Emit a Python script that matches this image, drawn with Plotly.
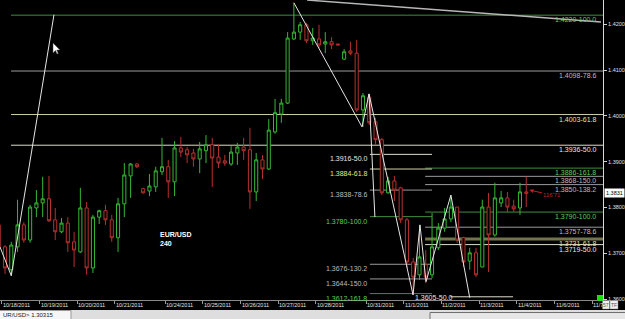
import plotly.graph_objects as go

# ---------------- data (4h EUR/USD bars) ----------------
bar_idx = list(range(-1, 84))
opens = [1.3762, 1.3714, 1.3664, 1.3714, 1.3762, 1.3729, 1.3799, 1.3810, 1.3819, 1.3773,
         1.3747, 1.3766, 1.3725, 1.3703, 1.3799, 1.3668, 1.3779, 1.3793, 1.3773, 1.3734,
         1.3808, 1.3869, 1.3895, 1.3841, 1.3836, 1.3845, 1.3878, 1.3889, 1.3856, 1.3930,
         1.3926, 1.3919, 1.3906, 1.3924, 1.3937, 1.3910, 1.3902, 1.3895, 1.3919, 1.3932,
         1.3926, 1.3834, 1.3904, 1.3884, 1.3965, 1.4004, 1.4028, 1.4168, 1.4183, 1.4199,
         1.4164, 1.4168, 1.4157, 1.4162, 1.4157, 1.4124, 1.4142, 1.4137, 1.4013, 1.4041,
         1.3987, 1.3948, 1.3832, 1.3858, 1.3843, 1.3773, 1.3681, 1.3653, 1.3675, 1.3653,
         1.3712, 1.3755, 1.3775, 1.3801, 1.3734, 1.3683, 1.3701, 1.3670, 1.3801, 1.3740,
         1.3810, 1.3821, 1.3803, 1.3799, 1.3834]
highs = [1.3779, 1.3718, 1.3725, 1.3817, 1.3768, 1.3806, 1.3838, 1.3867, 1.3869, 1.3799,
         1.3777, 1.3779, 1.3747, 1.3843, 1.3812, 1.3784, 1.3795, 1.3806, 1.3784, 1.3821,
         1.3897, 1.3897, 1.3897, 1.3843, 1.3873, 1.3889, 1.3952, 1.3904, 1.3945, 1.3954,
         1.3932, 1.3928, 1.3943, 1.3958, 1.3952, 1.3937, 1.3915, 1.3934, 1.3941, 1.3952,
         1.3974, 1.3919, 1.3915, 1.3993, 1.4037, 1.4037, 1.4183, 1.4247, 1.4205, 1.4203,
         1.4192, 1.4199, 1.4183, 1.4172, 1.4157, 1.4146, 1.4162, 1.4166, 1.4050, 1.4048,
         1.3996, 1.3952, 1.3867, 1.3869, 1.3845, 1.3777, 1.3690, 1.3762, 1.3707, 1.3788,
         1.3766, 1.3799, 1.3827, 1.3801, 1.3736, 1.3712, 1.3712, 1.3817, 1.3832, 1.3854,
         1.3836, 1.3834, 1.3817, 1.3854, 1.3867]
lows = [1.3707, 1.3655, 1.3651, 1.3703, 1.3723, 1.3723, 1.3779, 1.3779, 1.3768, 1.3729,
        1.3744, 1.3703, 1.3670, 1.3701, 1.3653, 1.3657, 1.3764, 1.3762, 1.3725, 1.3703,
        1.3779, 1.3821, 1.3886, 1.3830, 1.3825, 1.3834, 1.3871, 1.3821, 1.3825, 1.3910,
        1.3897, 1.3889, 1.3875, 1.3897, 1.3845, 1.3886, 1.3891, 1.3891, 1.3893, 1.3904,
        1.3797, 1.3814, 1.3862, 1.3882, 1.3961, 1.3985, 1.4026, 1.4166, 1.4166, 1.4159,
        1.4155, 1.4148, 1.4137, 1.4146, 1.4155, 1.4122, 1.4133, 1.4009, 1.3976, 1.3980,
        1.3937, 1.3827, 1.3830, 1.3814, 1.3766, 1.3668, 1.3609, 1.3642, 1.3635, 1.3646,
        1.3707, 1.3747, 1.3768, 1.3723, 1.3670, 1.3664, 1.3648, 1.3670, 1.3659, 1.3736,
        1.3801, 1.3790, 1.3790, 1.3784, 1.3801]
closes = [1.3714, 1.3668, 1.3718, 1.3762, 1.3729, 1.3801, 1.3810, 1.3819, 1.3771, 1.3747,
          1.3766, 1.3723, 1.3707, 1.3799, 1.3668, 1.3779, 1.3793, 1.3773, 1.3734, 1.3808,
          1.3871, 1.3895, 1.3889, 1.3832, 1.3847, 1.3880, 1.3889, 1.3856, 1.3930, 1.3921,
          1.3915, 1.3906, 1.3928, 1.3937, 1.3908, 1.3897, 1.3897, 1.3921, 1.3932, 1.3924,
          1.3834, 1.3904, 1.3884, 1.3969, 1.4007, 1.4028, 1.4170, 1.4183, 1.4199, 1.4164,
          1.4170, 1.4155, 1.4162, 1.4155, 1.4155, 1.4140, 1.4137, 1.4013, 1.4044, 1.3985,
          1.3948, 1.3832, 1.3858, 1.3838, 1.3773, 1.3681, 1.3648, 1.3692, 1.3648, 1.3714,
          1.3755, 1.3775, 1.3801, 1.3729, 1.3681, 1.3701, 1.3653, 1.3801, 1.3740, 1.3821,
          1.3821, 1.3801, 1.3797, 1.3834, 1.3831]

day_start = [0, 6, 12, 18, 26, 32, 38, 44, 50, 58, 64, 70, 76, 82, 88, 94]
day_labels = ["10/18/2011", "10/19/2011", "10/20/2011", "10/21/2011", "10/24/2011",
              "10/25/2011", "10/26/2011", "10/27/2011", "10/28/2011", "10/31/2011",
              "11/1/2011", "11/2/2011", "11/3/2011", "11/4/2011", "11/6/2011", "11/7"]

price_ticks = [1.36, 1.37, 1.38, 1.39, 1.40, 1.41, 1.42]
price_tick_text = ["1.3600", "1.3700", "1.3800", "1.3900", "1.4000", "1.4100", "1.4200"]
last_price = 1.3831

fib_top_levels = [1.4220, 1.4098, 1.4003, 1.3936]
fib_top_ratios = ["100.0", "78.6", "61.8", "50.0"]
fib_right_levels = [1.3886, 1.3868, 1.3850, 1.3790, 1.3757, 1.3731, 1.3719]
fib_right_ratios = ["161.8", "150.0", "138.2", "100.0", "78.6", "61.8", "50.0"]
fib_mid_levels = [1.3916, 1.3884, 1.3838, 1.3780, 1.3676, 1.3644, 1.3612]
fib_mid_ratios = ["50.0", "61.8", "78.6", "100.0", "130.2", "150.0", "161.8"]
fib_low_level = 1.3605
fib_low_ratio = "50.0"

trend_a_x = [-0.8, 1.0, 7.8]
trend_a_y = [1.3714, 1.3651, 1.4221]
trend_b_x = [46.0, 56.85, 57.96, 64.97, 66.08, 67.04, 71.0, 74.0]
trend_b_y = [1.4247, 1.3976, 1.4048, 1.3609, 1.3762, 1.3638, 1.3827, 1.3603]
trend_c_x = [57.96, 58.9]
trend_c_y = [1.4048, 1.3779]
trend_d_x = [48.1, 94.9]
trend_d_y = [1.4253, 1.4205]

# ---------------- styling helpers ----------------
GREEN_LINE, GREEN_TXT = "#3e8e3e", "#5fcf5f"
GRAY_LINE, GRAY_TXT = "#9a9a9a", "#bdbdbd"
YEL_LINE, YEL_TXT = "#cfcfa6", "#e6e68a"
WHITE_LINE, WHITE_TXT = "#dcdccc", "#e8e8e8"


def fib_colors(ratio):
    if ratio in ("100.0", "161.8"):
        return GREEN_LINE, GREEN_TXT
    if ratio == "61.8":
        return YEL_LINE, YEL_TXT
    if ratio == "50.0":
        return WHITE_LINE, WHITE_TXT
    return GRAY_LINE, GRAY_TXT


X_MIN, X_MAX = -0.796, 95.22
Y_MIN, Y_MAX = 1.35980, 1.42531

fig = go.Figure()
fig.add_trace(go.Candlestick(
    x=bar_idx, open=opens, high=highs, low=lows, close=closes,
    increasing=dict(line=dict(color="#35b835", width=1), fillcolor="black"),
    decreasing=dict(line=dict(color="#b83030", width=1), fillcolor="black"),
    whiskerwidth=0, hoverinfo="skip", showlegend=False,
))

for tx, ty in [(trend_a_x, trend_a_y), (trend_b_x, trend_b_y), (trend_c_x, trend_c_y)]:
    fig.add_trace(go.Scatter(x=tx, y=ty, mode="lines", line=dict(color="#e6e6e6", width=1),
                             hoverinfo="skip", showlegend=False))
fig.add_trace(go.Scatter(x=trend_d_x, y=trend_d_y, mode="lines",
                         line=dict(color="#b8b8b8", width=1.5),
                         hoverinfo="skip", showlegend=False))

shapes = []
annotations = []
LBL_FONT = "Liberation Sans"


def add_fib(level, ratio, x0, x1, lx, anchor="right", width=1, line_color=None):
    lc, tc = fib_colors(ratio)
    if line_color:
        lc = line_color
    shapes.append(dict(type="line", xref="x", yref="y", x0=x0, x1=x1, y0=level, y1=level,
                       line=dict(color=lc, width=width), layer="below"))
    annotations.append(dict(xref="x", yref="y", x=lx, y=level, xanchor=anchor, yanchor="top",
                            text=f"{level:.4f}-{ratio}", showarrow=False, yshift=1,
                            font=dict(family=LBL_FONT, size=7, color=tc)))


for lv, r in zip(fib_top_levels, fib_top_ratios):
    add_fib(lv, r, 0.96, X_MAX, 94.4)
for lv, r in zip(fib_right_levels, fib_right_ratios):
    if r == "61.8":
        add_fib(lv, r, 66.9, X_MAX, 94.4, width=3, line_color="#74744c")
    else:
        add_fib(lv, r, 66.9, X_MAX, 94.4)
for lv, r in zip(fib_mid_levels, fib_mid_ratios):
    add_fib(lv, r, 58.1, 68.0, 58.0)
# lowest short fib line
lc, tc = fib_colors(fib_low_ratio)
shapes.append(dict(type="line", xref="x", yref="y", x0=70.9, x1=80.9, y0=fib_low_level,
                   y1=fib_low_level, line=dict(color=lc, width=1), layer="below"))
annotations.append(dict(xref="x", yref="y", x=65.0, y=fib_low_level, xanchor="left",
                        yanchor="middle", yshift=-1, text=f"{fib_low_level:.4f}-{fib_low_ratio}",
                        showarrow=False, font=dict(family=LBL_FONT, size=7, color=tc)))

# chart caption
annotations.append(dict(xref="x", yref="y", x=24.4, y=1.3753, xanchor="left", yanchor="top",
                        align="left", text="<b>EUR/USD<br>240</b>", showarrow=False,
                        font=dict(family=LBL_FONT, size=7, color="white")))

# last price marker and note
annotations.append(dict(xref="paper", yref="y", x=1.002, y=last_price, xanchor="left",
                        yanchor="middle", text=f"{last_price:.4f}", showarrow=False,
                        bgcolor="white", borderpad=1,
                        font=dict(family=LBL_FONT, size=5.5, color="black")))
annotations.append(dict(xref="x", yref="y", x=83.5, y=1.3838, ax=23, ay=5, text="116'71",
                        showarrow=True, arrowhead=2, arrowsize=0.8, arrowwidth=1,
                        arrowcolor="#c02020",
                        font=dict(family=LBL_FONT, size=6, color="#c02020")))

# bottom status bar & small widgets (pixel -> paper helpers)
PW, PH = 603.0, 300.0


def px(X):
    return X / PW


def py(Y):
    return (PH - Y) / PH


# date labels, left-aligned at each day's tick
for d, lab in zip(day_start, day_labels):
    annotations.append(dict(xref="x", yref="paper", x=d - 0.5, y=py(305), xanchor="left",
                            yanchor="middle", text=lab, showarrow=False, xshift=-1,
                            font=dict(family=LBL_FONT, size=5.5, color="#e0e0e0")))

shapes += [
    dict(type="rect", xref="paper", yref="paper", x0=px(-2), x1=px(627), y0=py(320), y1=py(310),
         fillcolor="#dedede", line=dict(width=0), layer="above"),
    dict(type="rect", xref="paper", yref="paper", x0=px(-2), x1=px(71), y0=py(320), y1=py(310.5),
         fillcolor="#f6f6f6", line=dict(color="#9a9a9a", width=1), layer="above"),
    dict(type="rect", xref="paper", yref="paper", x0=px(430), x1=px(627), y0=py(320), y1=py(312.5),
         fillcolor="#e6e6e6", line=dict(color="#707070", width=1), layer="above"),
    dict(type="rect", xref="paper", yref="paper", x0=px(597), x1=px(603), y0=py(301), y1=py(295),
         fillcolor="#18e018", line=dict(width=0), layer="above"),
    dict(type="rect", xref="paper", yref="paper", x0=px(602.5), x1=px(609.5), y0=py(309), y1=py(300.5),
         fillcolor="#f0f0f0", line=dict(color="#808080", width=0.5), layer="above"),
    dict(type="rect", xref="paper", yref="paper", x0=px(610), x1=px(618), y0=py(309), y1=py(300.5),
         fillcolor="#f0f0f0", line=dict(color="#808080", width=0.5), layer="above"),
    # mouse pointer
    dict(type="path", xref="paper", yref="paper", layer="above",
         path=f"M {px(53)},{py(43)} L {px(53)},{py(53)} L {px(55.5)},{py(50.5)} L {px(57)},{py(54)} "
              f"L {px(58.3)},{py(53.4)} L {px(56.8)},{py(50)} L {px(60)},{py(50)} Z",
         fillcolor="white", line=dict(color="#404040", width=0.5)),
]
annotations += [
    dict(xref="paper", yref="paper", x=px(1), y=py(314.5), xanchor="left", yanchor="middle",
         text="UR/USD> 1.30315", showarrow=False, font=dict(family=LBL_FONT, size=6, color="#202020")),
    dict(xref="paper", yref="paper", x=px(606), y=py(305), xanchor="center", yanchor="middle",
         text="57", showarrow=False, font=dict(family=LBL_FONT, size=5, color="#505050")),
    dict(xref="paper", yref="paper", x=px(614), y=py(305), xanchor="center", yanchor="middle",
         text="TF", showarrow=False, font=dict(family=LBL_FONT, size=5, color="#505050")),
]

fig.update_layout(
    width=625, height=319,
    margin=dict(l=0, r=22, t=0, b=19, pad=0),
    paper_bgcolor="black", plot_bgcolor="black",
    showlegend=False, hovermode=False, dragmode=False,
    shapes=shapes, annotations=annotations,
    xaxis=dict(range=[X_MIN, X_MAX], rangeslider=dict(visible=False), showgrid=False,
               zeroline=False, tickmode="array", tickvals=[d - 0.5 for d in day_start],
               showticklabels=False, ticks="outside", ticklen=3, tickcolor="#9a9a9a",
               showline=True, linecolor="#8a8a8a", linewidth=1),
    yaxis=dict(range=[Y_MIN, Y_MAX], side="right", showgrid=False, zeroline=False,
               tickmode="array", tickvals=price_ticks, ticktext=price_tick_text,
               ticks="outside", ticklen=3, tickcolor="#d0d0d0",
               tickfont=dict(family=LBL_FONT, size=5.5, color="#e0e0e0"),
               showline=True, linecolor="#d8d8d8", linewidth=1),
)

fig.write_html("out.html", config={"displayModeBar": False, "staticPlot": True})
